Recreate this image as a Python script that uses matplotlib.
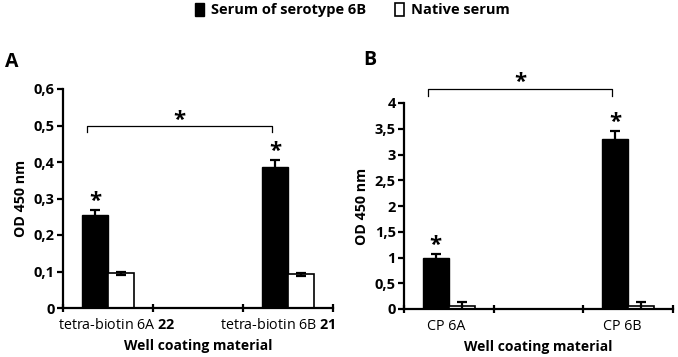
import matplotlib
matplotlib.use("Agg")
import matplotlib.pyplot as plt
from matplotlib.patches import Rectangle
import numpy as np

plt.rcParams['font.family'] = ['Open Sans', 'DejaVu Sans']
plt.rcParams['mathtext.fontset'] = 'custom'
plt.rcParams['mathtext.bf'] = 'Open Sans:bold'
plt.rcParams['mathtext.rm'] = 'Open Sans'

# ---- data ----
series_names = ["Serum of serotype 6B", "Native serum"]

a_labels = ["tetra-biotin 6A $\\mathbf{22}$", "", "tetra-biotin 6B $\\mathbf{21}$"]
a_serum6b = [0.255, np.nan, 0.385]
a_serum6b_err = [0.013, 0, 0.02]
a_native = [0.095, np.nan, 0.093]
a_native_err = [0.004, 0, 0.004]
a_yticks = [0, 0.1, 0.2, 0.3, 0.4, 0.5, 0.6]
a_yticklabels = ["0", "0,1", "0,2", "0,3", "0,4", "0,5", "0,6"]

b_labels = ["CP 6A", "", "CP 6B"]
b_serum6b = [1.0, np.nan, 3.3]
b_serum6b_err = [0.06, 0, 0.16]
b_native = [0.06, np.nan, 0.06]
b_native_err = [0.08, 0, 0.08]
b_yticks = [0, 0.5, 1, 1.5, 2, 2.5, 3, 3.5, 4]
b_yticklabels = ["0", "0,5", "1", "1,5", "2", "2,5", "3", "3,5", "4"]

fig = plt.figure(figsize=(6.78, 3.57), dpi=100)

W, H = 678, 357
def ax_rect(l, r, b, t):
    return [l / W, 1 - b / H, (r - l) / W, (b - t) / H]

axA = fig.add_axes(ax_rect(63, 333, 308, 89))
axB = fig.add_axes(ax_rect(404, 673, 309, 103))

bw = 0.29

def draw(ax, labels, s1, e1, s2, e2, ylim, yticks, yticklabels,
         bracket_y, bracket_drop, star_y, bar_star_off, label_offsets):
    x = np.arange(len(labels))
    ax.bar(x - bw / 2, s1, bw, color='black', edgecolor='black', linewidth=1.0,
           yerr=e1, error_kw=dict(ecolor='black', elinewidth=1.6, capsize=3.5, capthick=1.6))
    ax.bar(x + bw / 2, s2, bw, color='white', edgecolor='black', linewidth=1.2,
           yerr=e2, error_kw=dict(ecolor='black', elinewidth=1.6, capsize=3.5, capthick=1.6))
    ax.set_xlim(-0.5, len(labels) - 0.5)
    ax.set_ylim(*ylim)
    ax.set_yticks(yticks)
    ax.set_yticklabels(yticklabels, fontweight='bold', fontsize=10.5)
    ax.set_xticks(np.arange(len(labels) + 1) - 0.5)
    ax.set_xticklabels([])
    for xi, lab, off in zip(x, labels, label_offsets):
        if lab:
            ax.annotate(lab, xy=(xi, 0), xycoords=('data', 'axes fraction'),
                        xytext=(off, -7), textcoords='offset points',
                        ha='center', va='top', fontsize=10.3)
    for s in ['top', 'right']:
        ax.spines[s].set_visible(False)
    for s in ['left', 'bottom']:
        ax.spines[s].set_linewidth(1.6)
    ax.tick_params(axis='y', direction='out', length=4, width=1.6, pad=2)
    ax.tick_params(axis='x', direction='inout', length=6, width=1.6)
    ax.set_ylabel("OD 450 nm", fontweight='bold', fontsize=10.3, labelpad=4)
    ax.set_xlabel("Well coating material", fontweight='bold', fontsize=10, labelpad=16)
    # stars above bars
    for xi, v, e in zip(x, s1, e1):
        if not np.isnan(v):
            ax.text(xi - bw / 2, v + e + bar_star_off, "*", ha='center', va='center',
                    fontsize=16, fontweight='bold', clip_on=False)
    # bracket
    xl, xr = x[0] - 0.23, x[-1] - 0.18
    ax.plot([xl, xl, xr, xr], [bracket_y - bracket_drop, bracket_y, bracket_y, bracket_y - bracket_drop],
            color='black', linewidth=0.9, clip_on=False)
    ax.text((xl + xr) / 2, star_y, "*", ha='center', va='center', fontsize=16,
            fontweight='bold', clip_on=False)

draw(axA, a_labels, a_serum6b, a_serum6b_err, a_native, a_native_err,
     (0, 0.6), a_yticks, a_yticklabels, 0.5, 0.017, 0.515, 0.025, [6, 0, -7])
draw(axB, b_labels, b_serum6b, b_serum6b_err, b_native, b_native_err,
     (0, 4), b_yticks, b_yticklabels, 4.27, 0.13, 4.40, 0.17, [-2, 0, -4])

fig.text(5 / W, 1 - 62 / H, "A", fontsize=14, fontweight='bold', va='center', ha='left')
fig.text(363 / W, 1 - 60 / H, "B", fontsize=14, fontweight='bold', va='center', ha='left')

# legend
handles = [Rectangle((0, 0), 1, 1, facecolor='black', edgecolor='black'),
           Rectangle((0, 0), 1, 1, facecolor='white', edgecolor='black', linewidth=1.2)]
fig.legend(handles, series_names, loc='center', bbox_to_anchor=(0.52, 1 - 10 / H),
           ncol=2, frameon=False, prop=dict(weight='bold', size=10.5),
           handlelength=0.6, handleheight=1.0, handletextpad=0.5, columnspacing=2.0)

fig.savefig("out.png", dpi=100)
